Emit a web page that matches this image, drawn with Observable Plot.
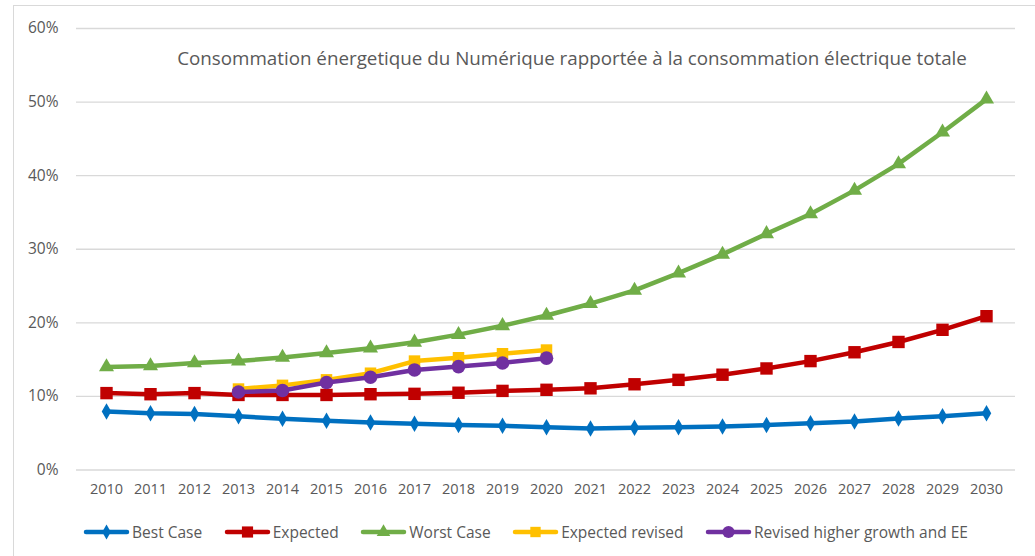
<!DOCTYPE html>
<html><head><meta charset="utf-8">
<script src="https://cdn.jsdelivr.net/npm/d3@7"></script>
<script src="https://cdn.jsdelivr.net/npm/@observablehq/plot@0.6"></script>
<style>
body{margin:0;background:#fff;overflow:hidden;font-family:"Open Sans",sans-serif;}
#wrap{position:relative;width:1035px;height:556px;overflow:hidden;}
#border{position:absolute;left:13px;top:5px;width:2000px;height:2000px;border:1px solid #d9d9d9;}
#chart{position:absolute;left:0;top:0;}
#legend{position:absolute;top:521px;left:0;width:1051px;display:flex;justify-content:center;gap:21.5px;font-size:15.5px;color:#595959;align-items:center;}
.item{display:flex;align-items:center;white-space:nowrap;}
.item svg{margin-right:2px;}
</style></head>
<body><div id="wrap"><div id="border"></div><div id="chart"></div><div id="legend"></div></div>
<script>
const title = "Consommation énergetique du Numérique rapportée à la consommation électrique totale";
const years = [2010,2011,2012,2013,2014,2015,2016,2017,2018,2019,2020,2021,2022,2023,2024,2025,2026,2027,2028,2029,2030];
const bestCase = [7.95,7.7,7.6,7.3,6.95,6.7,6.45,6.3,6.1,6.0,5.8,5.65,5.75,5.8,5.9,6.1,6.35,6.6,7.0,7.3,7.7];
const expected = [10.45,10.3,10.45,10.2,10.2,10.2,10.3,10.35,10.5,10.75,10.9,11.1,11.65,12.25,12.95,13.8,14.8,16.0,17.4,19.05,20.9];
const worstCase = [14.0,14.15,14.55,14.8,15.3,15.9,16.55,17.35,18.4,19.6,21.0,22.6,24.4,26.75,29.3,32.1,34.8,38.0,41.6,45.9,50.4];
const revisedYears = [2013,2014,2015,2016,2017,2018,2019,2020];
const expectedRevised = [11.0,11.5,12.25,13.15,14.8,15.25,15.8,16.3];
const revisedHigher = [10.6,10.8,11.9,12.6,13.6,14.05,14.55,15.2];
const yTicks = [0,10,20,30,40,50,60];

const seriesNames = ["Best Case","Expected","Worst Case","Expected revised","Revised higher growth and EE"];
const seriesColors = ["#0070C0","#C00000","#70AD47","#FFC000","#7030A0"];
const seriesSymbols = ["diamond","square","triangle","square","circle"];
const seriesR = [5,7,5.6,6.5,6.8];

const seriesData = [
  [years, bestCase],[years, expected],[years, worstCase],
  [revisedYears, expectedRevised],[revisedYears, revisedHigher]
];
const rows = [];
seriesData.forEach(([xs, vs], i) => xs.forEach((y, j) => rows.push({series: seriesNames[i], year: y, value: vs[j]})));

const marks = [
  Plot.ruleY(yTicks, {stroke: "#d9d9d9", strokeWidth: 1.3}),
  Plot.axisY(yTicks, {tickSize: 0, tickPadding: 18, tickFormat: d => d + "%", fontSize: 15.5, fill: "#595959", label: null}),
  Plot.axisX(years, {tickSize: 0, tickPadding: 14, fontSize: 14.5, fill: "#595959", label: null, tickFormat: d => String(d)}),
  Plot.text([title], {frameAnchor: "top", dx: 26, dy: 23, fontSize: 18.8, fill: "#595959", text: d => d})
];
seriesNames.forEach((name, i) => {
  const d = rows.filter(r => r.series === name);
  marks.push(Plot.line(d, {x: "year", y: "value", stroke: seriesColors[i], strokeWidth: 4.5, strokeLinejoin: "round", strokeLinecap: "round"}));
  marks.push(Plot.dot(d, {x: "year", y: "value", symbol: seriesSymbols[i], r: seriesR[i], fill: seriesColors[i], stroke: "none"}));
});

const chart = Plot.plot({
  width: 1035, height: 510,
  marginLeft: 76, marginRight: 20, marginTop: 28, marginBottom: 40.5,
  style: {fontFamily: "'Open Sans', sans-serif", background: "transparent", color: "#595959"},
  x: {type: "point", domain: years, padding: 0.5},
  y: {domain: [0, 60]},
  marks
});
document.getElementById("chart").appendChild(chart);

const symMap = {diamond: d3.symbolDiamond, square: d3.symbolSquare, triangle: d3.symbolTriangle, circle: d3.symbolCircle};
const legend = document.getElementById("legend");
seriesNames.forEach((name, i) => {
  const item = document.createElement("div");
  item.className = "item";
  const r = seriesR[i] * 0.9;
  const path = d3.symbol(symMap[seriesSymbols[i]], r * r * Math.PI)();
  item.innerHTML = `<svg width="47" height="16"><line x1="3" y1="8" x2="44" y2="8" stroke="${seriesColors[i]}" stroke-width="4.5" stroke-linecap="round"/><path d="${path}" transform="translate(23.5,8)" fill="${seriesColors[i]}"/></svg><span>${name}</span>`;
  legend.appendChild(item);
});
</script></body></html>
